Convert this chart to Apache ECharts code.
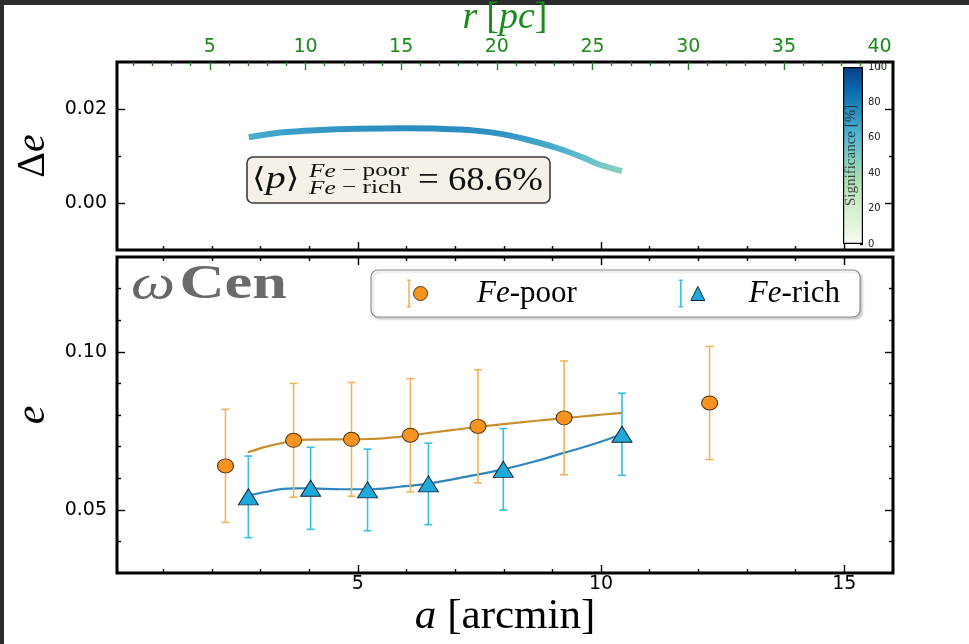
<!DOCTYPE html>
<html>
<head>
<meta charset="utf-8">
<script src="https://cdn.jsdelivr.net/npm/echarts@6/dist/echarts.min.js"></script>
<style>
  html, body { margin: 0; padding: 0; background: #ffffff; }
  #chart { width: 969px; height: 644px; }
</style>
</head>
<body>
<div id="chart"></div>
<script>
// ---- Fe-poor population: semi-major axis a [arcmin], ellipticity e, 1-sigma error
const poorA   = [2.28, 3.68, 4.87, 6.08, 7.47, 9.24, 12.23];
const poorE   = [0.0639, 0.0720, 0.0723, 0.0736, 0.0764, 0.0791, 0.0838];
const poorErr = [0.0179, 0.0180, 0.0180, 0.0179, 0.0179, 0.0180, 0.0179];

// ---- Fe-rich population
const richA   = [2.75, 4.03, 5.20, 6.45, 7.99, 10.43];
const richE   = [0.0541, 0.0568, 0.0563, 0.0582, 0.0628, 0.0739];
const richErr = [0.0129, 0.0130, 0.0129, 0.0129, 0.0129, 0.0130];

// ---- smoothed ellipticity profiles
const fitA    = [2.74, 3.12, 3.46, 3.69, 4.03, 4.63, 5.20, 5.86, 6.45, 7.24, 7.99, 8.61, 9.25, 9.85, 10.43];
const fitPoor = [0.0682, 0.0700, 0.0712, 0.0719, 0.0722, 0.0723, 0.0724, 0.0731, 0.0743, 0.0758, 0.0771, 0.0781, 0.0790, 0.0799, 0.0807];
const fitRich = [0.0544, 0.0557, 0.0566, 0.0568, 0.0568, 0.0565, 0.0565, 0.0573, 0.0583, 0.0605, 0.0628, 0.0652, 0.0681, 0.0708, 0.0739];

// ---- ellipticity difference and its significance [%]
const deltaA   = [2.76, 3.41, 4.14, 5.00, 5.96, 6.69, 7.42, 8.00, 8.51, 9.09, 9.60, 9.96, 10.43];
const deltaE   = [0.0140, 0.0150, 0.0155, 0.0158, 0.0159, 0.0158, 0.0154, 0.0146, 0.0134, 0.0117, 0.0098, 0.0082, 0.0068];
const signif   = [64, 68, 71, 73, 75, 75, 74, 72, 69, 64, 57, 52, 46];
const meanSignificance = 68.6;

// ---- axis ranges and ticks
const aRange  = [0.05, 16];
const rRange  = [0.15, 40.7];
const deRange = [-0.01, 0.03];
const eRange  = [0.03, 0.13];
const sigRange = [0, 100];

const aTicks   = [5, 10, 15];
const aMinor   = [1, 2, 3, 4, 6, 7, 8, 9, 11, 12, 13, 14];
const rTicks   = [5, 10, 15, 20, 25, 30, 35, 40];
const rMinor   = [1,2,3,4, 6,7,8,9, 11,12,13,14, 16,17,18,19, 21,22,23,24, 26,27,28,29, 31,32,33,34, 36,37,38,39];
const deTicks  = [0.00, 0.02];
const deMinor  = [0.01];
const eTicks   = [0.05, 0.10];
const eMinor   = [0.04, 0.06, 0.07, 0.08, 0.09, 0.11, 0.12];
const sigTicks = [0, 20, 40, 60, 80, 100];

// GnBu colour ramp used for the significance scale
const gnbu = ['#f7fcf0', '#e0f3db', '#ccebc5', '#a8ddb5', '#7bccc4', '#4eb3d3', '#2b8cbe', '#0868ac', '#084081'];

const SERIF = '"Liberation Serif", "DejaVu Serif", serif';
const SANS  = '"DejaVu Sans", sans-serif';
const GREEN = '#1a8a1a';
const POOR_FILL = '#f7931e', POOR_BAR = '#f2b35a', POOR_LINE = '#c98f2f';
const RICH_FILL = '#1fa8da', RICH_BAR = '#38bede', RICH_LINE = '#2f86bd';

// colour of a significance value on the GnBu ramp
function rampColor(pct) {
  const t = Math.max(0, Math.min(1, (pct - sigRange[0]) / (sigRange[1] - sigRange[0]))) * (gnbu.length - 1);
  const i = Math.min(gnbu.length - 2, Math.floor(t)), f = t - i;
  const p = h => [1, 3, 5].map(k => parseInt(h.substr(k, 2), 16));
  const c0 = p(gnbu[i]), c1 = p(gnbu[i + 1]);
  return 'rgb(' + c0.map((v, k) => Math.round(v + (c1[k] - v) * f)).join(',') + ')';
}

// panel geometry
const L = 117, W = 776;
const grids = [
  { left: L, top: 62,  width: W,  height: 188 },   // difference panel
  { left: L, top: 257, width: W,  height: 316 },   // ellipticity panel
  { left: 843, top: 67, width: 20, height: 177 }   // colour bar
];

// tick-only axis (ticks point inward; optional labels)
function tickAxis(gridIndex, position, range, values, len, color, label) {
  const ax = {
    type: 'value', gridIndex, position, min: range[0], max: range[1],
    axisLine: { show: false, onZero: false }, splitLine: { show: false },
    axisTick: { show: true, inside: true, length: len, customValues: values,
                lineStyle: { color, width: 1.4 } },
    axisLabel: { show: false }
  };
  if (label) {
    ax.axisLabel = Object.assign({ show: true, customValues: values }, label);
  }
  return ax;
}

const tickLabel = (fmt, extra) => Object.assign({
  fontFamily: SANS, fontSize: 19, color: '#000', formatter: fmt
}, extra || {});

const xAxes = [
  // 0-3 : difference panel
  tickAxis(0, 'bottom', aRange, aTicks, 8, '#000'),
  tickAxis(0, 'bottom', aRange, aMinor, 4, '#000'),
  Object.assign(tickAxis(0, 'top', rRange, rTicks, 8, GREEN,
      tickLabel(v => String(v), { color: GREEN, margin: 5 })), {
    name: '{i|r}{s| }{n|[}{i|pc}{n|]}',
    nameLocation: 'middle', nameGap: 24,
    nameTextStyle: { color: GREEN, rich: {
      s: { width: 9 },
      i: { fontFamily: SERIF, fontStyle: 'italic', fontSize: 38, color: GREEN },
      n: { fontFamily: SERIF, fontSize: 38, color: GREEN } } }
  }),
  tickAxis(0, 'top', rRange, rMinor, 4, GREEN),
  // 4-7 : ellipticity panel
  Object.assign(tickAxis(1, 'bottom', aRange, aTicks, 8, '#000',
      tickLabel(v => String(v), { margin: 2 })), {
    name: '{i|a}{s| }{n|[arcmin]}',
    nameLocation: 'middle', nameGap: 17,
    nameTextStyle: { rich: {
      s: { width: 11 },
      i: { fontFamily: SERIF, fontStyle: 'italic', fontSize: 43, color: '#000' },
      n: { fontFamily: SERIF, fontSize: 43, color: '#000' } } }
  }),
  tickAxis(1, 'bottom', aRange, aMinor, 4, '#000'),
  tickAxis(1, 'top', aRange, aTicks, 8, '#000'),
  tickAxis(1, 'top', aRange, aMinor, 4, '#000'),
  // 8 : colour bar
  { type: 'category', gridIndex: 2, data: ['s'], show: false }
];

const yAxes = [
  // 0-3 : difference panel
  Object.assign(tickAxis(0, 'left', deRange, deTicks, 8, '#000',
      tickLabel(v => v.toFixed(2), { margin: 10 })), {
    name: '{n|Δ}{i|e}', nameLocation: 'middle', nameGap: 62,
    nameTextStyle: { rich: {
      i: { fontFamily: SERIF, fontStyle: 'italic', fontSize: 40, color: '#000' },
      n: { fontFamily: SERIF, fontSize: 40, color: '#000' } } }
  }),
  tickAxis(0, 'left', deRange, deMinor, 4, '#000'),
  tickAxis(0, 'right', deRange, deTicks, 8, '#000'),
  tickAxis(0, 'right', deRange, deMinor, 4, '#000'),
  // 4-7 : ellipticity panel
  Object.assign(tickAxis(1, 'left', eRange, eTicks, 8, '#000',
      tickLabel(v => v.toFixed(2), { margin: 10 })), {
    name: '{i|e}', nameLocation: 'middle', nameGap: 60,
    nameTextStyle: { rich: {
      i: { fontFamily: SERIF, fontStyle: 'italic', fontSize: 42, color: '#000' } } }
  }),
  tickAxis(1, 'left', eRange, eMinor, 4, '#000'),
  tickAxis(1, 'right', eRange, eTicks, 8, '#000'),
  tickAxis(1, 'right', eRange, eMinor, 4, '#000'),
  // 8 : colour bar scale
  tickAxis(2, 'right', sigRange, sigTicks, 3, '#000',
      tickLabel(v => String(v), { fontSize: 10, margin: 5, color: '#222' }))
];

// error bar drawing: vertical segment with caps
function errorBars(color, capHalf) {
  return function (params, api) {
    const x = api.value(0);
    const lo = api.coord([x, api.value(1)]);
    const hi = api.coord([x, api.value(2)]);
    const st = { stroke: color, lineWidth: 1.6 };
    return {
      type: 'group',
      children: [
        { type: 'line', shape: { x1: lo[0], y1: lo[1], x2: hi[0], y2: hi[1] }, style: st },
        { type: 'line', shape: { x1: hi[0] - capHalf, y1: hi[1], x2: hi[0] + capHalf, y2: hi[1] }, style: st },
        { type: 'line', shape: { x1: lo[0] - capHalf, y1: lo[1], x2: lo[0] + capHalf, y2: lo[1] }, style: st }
      ]
    };
  };
}

// colour bar fill and the significance-coded stroke of the difference curve
const barStops = gnbu.map((c, i) => ({ offset: 1 - i / (gnbu.length - 1), color: c }));
const a0 = deltaA[0], a1 = deltaA[deltaA.length - 1];
const curveStops = deltaA.map((a, i) => ({ offset: (a - a0) / (a1 - a0), color: rampColor(signif[i]) }));

const series = [
  // 0 : difference curve coloured by significance
  {
    type: 'line', name: 'delta', xAxisIndex: 0, yAxisIndex: 0,
    data: deltaA.map((a, i) => [a, deltaE[i], signif[i]]),
    smooth: 0.3, showSymbol: false, silent: true,
    lineStyle: { width: 6, cap: 'butt',
                 color: new echarts.graphic.LinearGradient(0, 0, 1, 0, curveStops) },
    z: 3
  },
  // 1-2 : smoothed profiles
  {
    type: 'line', name: 'fitPoor', xAxisIndex: 4, yAxisIndex: 4,
    data: fitA.map((a, i) => [a, fitPoor[i]]), smooth: 0.4, showSymbol: false,
    lineStyle: { color: POOR_LINE, width: 2.2 }, z: 2, silent: true
  },
  {
    type: 'line', name: 'fitRich', xAxisIndex: 4, yAxisIndex: 4,
    data: fitA.map((a, i) => [a, fitRich[i]]), smooth: 0.4, showSymbol: false,
    lineStyle: { color: RICH_LINE, width: 2.2 }, z: 2, silent: true
  },
  // 3-4 : error bars
  {
    type: 'custom', name: 'Fe-poor', xAxisIndex: 4, yAxisIndex: 4,
    data: poorA.map((a, i) => [a, poorE[i] - poorErr[i], poorE[i] + poorErr[i]]),
    encode: { x: 0, y: [1, 2] }, renderItem: errorBars(POOR_BAR, 4), z: 3,
    itemStyle: { color: POOR_BAR }
  },
  {
    type: 'custom', name: 'Fe-rich', xAxisIndex: 4, yAxisIndex: 4,
    data: richA.map((a, i) => [a, richE[i] - richErr[i], richE[i] + richErr[i]]),
    encode: { x: 0, y: [1, 2] }, renderItem: errorBars(RICH_BAR, 4), z: 3,
    itemStyle: { color: RICH_BAR }
  },
  // 5-6 : markers
  {
    type: 'scatter', name: 'Fe-poor', xAxisIndex: 4, yAxisIndex: 4,
    data: poorA.map((a, i) => [a, poorE[i]]),
    symbol: 'circle', symbolSize: [16, 14],
    itemStyle: { color: POOR_FILL, borderColor: '#4b3413', borderWidth: 1, opacity: 1 }, z: 5
  },
  {
    type: 'scatter', name: 'Fe-rich', xAxisIndex: 4, yAxisIndex: 4,
    data: richA.map((a, i) => [a, richE[i]]),
    symbol: 'triangle', symbolSize: [20, 16],
    itemStyle: { color: RICH_FILL, borderColor: '#10283a', borderWidth: 1, opacity: 1 }, z: 5
  },
  // 7 : colour bar
  {
    type: 'bar', xAxisIndex: 8, yAxisIndex: 8, data: [sigRange[1]], barWidth: '100%', silent: true,
    itemStyle: {
      color: new echarts.graphic.LinearGradient(0, 0, 0, 1, barStops),
      borderColor: '#000', borderWidth: 1.2
    }
  }
];

const LEG_FS = 31;
const legendRich = (col, gap) => ({
  sp: { width: gap },
  i:  { fontFamily: SERIF, fontStyle: 'italic', fontSize: LEG_FS, color: col },
  n:  { fontFamily: SERIF, fontSize: LEG_FS, color: col }
});
const legendFmt = name => {
  const [fe, rest] = name.split('-');
  return '{sp| }{i|' + fe + '}{n|-' + rest + '}';
};
const legendBase = {
  left: 371, top: 270, orient: 'horizontal',
  itemGap: 102, formatter: legendFmt, selectedMode: false
};
const barIcon = 'path://M11,0h4v1.6h-1.2v24.8h1.2v1.6h-4v-1.6h1.2v-24.8h-1.2z';

const option = {
  animation: false,
  backgroundColor: '#ffffff',
  grid: grids.map((g, i) => Object.assign({
    show: i < 2, borderColor: '#000', borderWidth: 3, backgroundColor: '#fff',
    containLabel: false, outerBoundsMode: 'none'
  }, g)),
  xAxis: xAxes,
  yAxis: yAxes,
  legend: [
    // box, labels and error-bar glyphs
    Object.assign({}, legendBase, {
      padding: [8, 20, 8, 36], itemWidth: 26, itemHeight: 28,
      backgroundColor: '#fff', borderColor: '#8a8a8a', borderWidth: 1.2, borderRadius: 7,
      shadowColor: 'rgba(0,0,0,0.18)', shadowBlur: 2, shadowOffsetX: 2, shadowOffsetY: 2,
      textStyle: { fontFamily: SERIF, fontSize: LEG_FS, color: '#000', rich: legendRich('#000', 50) },
      data: [
        { name: 'Fe-poor', icon: barIcon, itemStyle: { color: POOR_BAR, borderWidth: 0 } },
        { name: 'Fe-rich', icon: barIcon, itemStyle: { color: RICH_BAR, borderWidth: 0 } }
      ]
    }),
    // marker glyphs drawn over the bars
    Object.assign({}, legendBase, {
      padding: [8, 20, 8, 42], itemWidth: 14, itemHeight: 14,
      textStyle: { fontFamily: SERIF, fontSize: LEG_FS, color: 'rgba(0,0,0,0)',
                   rich: legendRich('rgba(0,0,0,0)', 56) },
      data: [
        { name: 'Fe-poor', icon: 'circle', itemStyle: { color: POOR_FILL, borderColor: '#4b3413', borderWidth: 1 } },
        { name: 'Fe-rich', icon: 'triangle', itemStyle: { color: RICH_FILL, borderColor: '#10283a', borderWidth: 1 } }
      ]
    })
  ],
  graphic: [
    // dark window frame along top and left edges
    { type: 'rect', left: 0, top: 0, shape: { width: 969, height: 5 }, style: { fill: '#2b2b2b' }, silent: true },
    { type: 'rect', left: 0, top: 0, shape: { width: 4, height: 644 }, style: { fill: '#2b2b2b' }, silent: true },
    // cluster name
    {
      type: 'text', x: 131, y: 286, scaleX: 1.3, silent: true, z: 50,
      style: {
        text: '{w|ω} {c|Cen}', verticalAlign: 'middle',
        rich: {
          w: { fontFamily: SERIF, fontStyle: 'italic', fontSize: 48, fill: '#666' },
          c: { fontFamily: SERIF, fontWeight: 'bold', fontSize: 48, fill: '#6a6a6a' }
        }
      }
    },
    // mean significance annotation
    {
      type: 'group', x: 247, y: 157, silent: true, z: 50,
      children: [
        { type: 'rect', shape: { x: 0, y: 0, width: 303, height: 46, r: 6 },
          style: { fill: '#f5f1e6', stroke: '#3c3c3c', lineWidth: 1.6 } },
        { type: 'text', x: 5, y: 23, scaleX: 1.25, style: {
            text: '{b|⟨}{i|p}{b|⟩}', verticalAlign: 'middle',
            rich: {
              b: { fontFamily: '"DejaVu Serif", serif', fontSize: 28, fill: '#111' },
              i: { fontFamily: SERIF, fontStyle: 'italic', fontSize: 32, fill: '#111' }
            } } },
        { type: 'text', x: 62, y: 23, scaleX: 1.33, style: {
            text: '{i|Fe}{n| − poor}\n{i|Fe}{n| − rich}', verticalAlign: 'middle',
            rich: {
              i: { fontFamily: SERIF, fontStyle: 'italic', fontSize: 19, lineHeight: 17, fill: '#111' },
              n: { fontFamily: SERIF, fontSize: 19, lineHeight: 17, fill: '#111' }
            } } },
        { type: 'text', x: 171, y: 24, scaleX: 1.08, style: {
            text: '= ' + meanSignificance.toFixed(1) + '%', verticalAlign: 'middle',
            fontFamily: SERIF, fontSize: 34, fill: '#111' } }
      ]
    },
    // colour bar caption
    {
      type: 'text', x: 851, y: 206, rotation: Math.PI / 2, silent: true, z: 60,
      style: { text: 'Significance [%]', fontFamily: SERIF, fontSize: 15,
               fill: 'rgba(30,30,30,0.8)', verticalAlign: 'middle' }
    }
  ],
  series
};

const chart = echarts.init(document.getElementById('chart'), null, { renderer: 'canvas' });
chart.setOption(option);
</script>
</body>
</html>
